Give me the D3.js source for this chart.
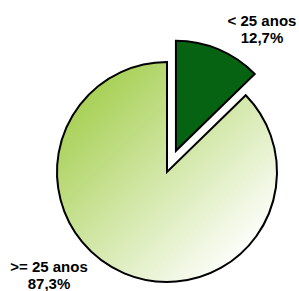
<!DOCTYPE html>
<meta charset="utf-8">
<script src="https://d3js.org/d3.v7.min.js"></script>
<style>
  body { margin: 0; background: #fff; }
</style>
<div id="chart"></div>
<script>
// Data
const categories = ["< 25 anos", ">= 25 anos"];
const values = [12.7, 87.3];
const valueLabels = ["12,7%", "87,3%"];

const width = 299, height = 291;
const cx = 167, cy = 172, radius = 110;
const explode = 23;

const svg = d3.select("#chart")
  .append("svg")
    .attr("width", width)
    .attr("height", height);

// gradient for the big slice (coords are local to the pie group)
const defs = svg.append("defs");
const grad = defs.append("linearGradient")
    .attr("id", "lightGreen")
    .attr("gradientUnits", "userSpaceOnUse")
    .attr("x1", -radius * 0.75).attr("y1", -radius * 0.75)
    .attr("x2", radius * 0.75).attr("y2", radius * 0.75);
grad.append("stop").attr("offset", "0%").attr("stop-color", "#a6cf52");
grad.append("stop").attr("offset", "100%").attr("stop-color", "#ffffff");

const fills = ["#066312", "url(#lightGreen)"];

const pie = d3.pie().sort(null).value(d => d)(values);
const arc = d3.arc().innerRadius(0).outerRadius(radius);

const g = svg.append("g").attr("transform", `translate(${cx},${cy})`);

g.selectAll("path")
  .data(pie)
  .join("path")
    .attr("d", arc)
    .attr("fill", (d, i) => fills[i])
    .attr("stroke", "#000")
    .attr("stroke-width", 2)
    .attr("stroke-linejoin", "miter")
    .attr("transform", (d, i) => {
      if (i !== 0) return null;
      const a = (d.startAngle + d.endAngle) / 2;
      return `translate(${Math.sin(a) * explode},${-Math.cos(a) * explode})`;
    });

// labels
const labelPos = [[262, 26], [49, 272]];
const labels = svg.append("g")
    .attr("font-family", "'Liberation Sans', Arial, sans-serif")
    .attr("font-weight", "bold")
    .attr("font-size", "15px")
    .attr("fill", "#000")
    .attr("text-anchor", "middle");

categories.forEach((c, i) => {
  const t = labels.append("text")
    .attr("x", labelPos[i][0])
    .attr("y", labelPos[i][1]);
  t.append("tspan").attr("x", labelPos[i][0]).text(c);
  t.append("tspan").attr("x", labelPos[i][0]).attr("dy", 17).text(valueLabels[i]);
});
</script>
